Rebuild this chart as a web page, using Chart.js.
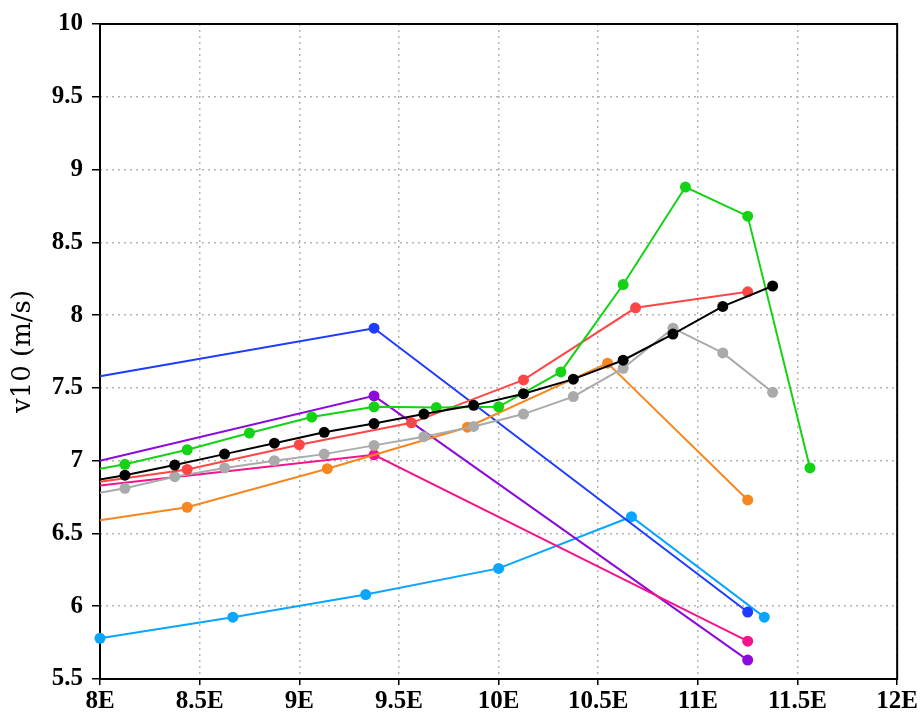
<!DOCTYPE html>
<html>
<head>
<meta charset="utf-8">
<script src="https://cdn.jsdelivr.net/npm/chart.js@4/dist/chart.umd.min.js"></script>
<style>
  html, body { margin: 0; padding: 0; background: #ffffff; }
  #wrap { width: 920px; height: 714px; }
</style>
</head>
<body>
<div id="wrap"><canvas id="c" width="920" height="714"></canvas></div>
<script>
// ---------- data ----------
const xTickValues = [8, 8.5, 9, 9.5, 10, 10.5, 11, 11.5, 12];
const xTickLabels = ["8E", "8.5E", "9E", "9.5E", "10E", "10.5E", "11E", "11.5E", "12E"];
const yTickValues = [5.5, 6, 6.5, 7, 7.5, 8, 8.5, 9, 9.5, 10];
const yTickLabels = ["5.5", "6", "6.5", "7", "7.5", "8", "8.5", "9", "9.5", "10"];
const yTitle = "v10 (m/s)";

// the first value of a series marked "enters from the left" is where the line crosses the 8E frame
const blackX = [8, 8.125, 8.375, 8.625, 8.875, 9.125, 9.375, 9.625, 9.875, 10.125, 10.375, 10.625, 10.875, 11.125, 11.375];
const blackY = [6.87, 6.90, 6.97, 7.045, 7.12, 7.195, 7.255, 7.32, 7.38, 7.46, 7.56, 7.69, 7.87, 8.06, 8.20];

const greenX = [8, 8.125, 8.4375, 8.75, 9.0625, 9.375, 9.6875, 10, 10.3125, 10.625, 10.9375, 11.25, 11.5625];
const greenY = [6.945, 6.975, 7.075, 7.19, 7.30, 7.37, 7.365, 7.37, 7.61, 8.21, 8.88, 8.68, 6.95];

const redX = [8, 8.4375, 9.0, 9.5625, 10.125, 10.6875, 11.25];
const redY = [6.855, 6.94, 7.11, 7.26, 7.555, 8.05, 8.16];

const grayX = [8, 8.125, 8.375, 8.625, 8.875, 9.125, 9.375, 9.625, 9.875, 10.125, 10.375, 10.625, 10.875, 11.125, 11.375];
const grayY = [6.78, 6.81, 6.89, 6.95, 7.00, 7.045, 7.105, 7.165, 7.235, 7.32, 7.44, 7.635, 7.91, 7.74, 7.47];

const orangeX = [8, 8.4375, 9.140625, 9.84375, 10.546875, 11.25];
const orangeY = [6.59, 6.68, 6.945, 7.23, 7.67, 6.73];

const pinkX = [8, 9.375, 11.25];
const pinkY = [6.83, 7.04, 5.76];

const purpleX = [8, 9.375, 11.25];
const purpleY = [7.0, 7.445, 5.63];

const blueX = [8, 9.375, 11.25];
const blueY = [7.58, 7.91, 5.96];

const cyanX = [8, 8.6667, 9.3333, 10, 10.6667, 11.3333];
const cyanY = [5.78, 5.925, 6.08, 6.26, 6.615, 5.925];

// series list: [name, xs, ys, enters-from-left]
const seriesList = [
  ["black", blackX, blackY, true],
  ["green", greenX, greenY, true],
  ["red", redX, redY, true],
  ["gray", grayX, grayY, true],
  ["orange", orangeX, orangeY, true],
  ["pink", pinkX, pinkY, true],
  ["purple", purpleX, purpleY, true],
  ["blue", blueX, blueY, true],
  ["cyan", cyanX, cyanY, false]
];

// ---------- styles ----------
const colorMap = {
  black: "#000000",
  green: "#14d214",
  red: "#ff4646",
  gray: "#aaaaaa",
  orange: "#f5871e",
  pink: "#f5148c",
  purple: "#8c0adc",
  blue: "#1e3cff",
  cyan: "#0aa5ff"
};

const datasets = seriesList.map(([name, xs, ys, entersLeft]) => ({
  label: name,
  data: xs.map((x, i) => ({ x: x, y: ys[i] })),
  showLine: true,
  borderColor: colorMap[name],
  backgroundColor: colorMap[name],
  borderWidth: 2,
  pointRadius: (ctx) => (entersLeft && ctx.dataIndex === 0) ? 0 : 5.5,
  pointHoverRadius: 5.5,
  pointBorderWidth: 0,
  clip: 10,
  tension: 0
}));

const framePlugin = {
  id: "frame",
  beforeDatasetsDraw(chart) {
    const a = chart.chartArea;
    const ctx = chart.ctx;
    ctx.save();
    ctx.strokeStyle = "#000";
    ctx.lineWidth = 2;
    ctx.setLineDash([]);
    ctx.strokeRect(a.left, a.top, a.right - a.left, a.bottom - a.top);
    ctx.restore();
  }
};

const tickFont = { family: "'Liberation Serif', 'DejaVu Serif', serif", size: 25, weight: "bold" };

new Chart(document.getElementById("c"), {
  type: "scatter",
  data: { datasets: datasets },
  plugins: [framePlugin],
  options: {
    responsive: false,
    animation: false,
    devicePixelRatio: 1,
    layout: { padding: { top: 24, right: 22, left: 0, bottom: 0 } },
    plugins: { legend: { display: false }, tooltip: { enabled: false } },
    scales: {
      x: {
        type: "linear",
        min: 8,
        max: 12,
        afterBuildTicks: (scale) => { scale.ticks = xTickValues.map(v => ({ value: v })); },
        afterFit: (scale) => { scale.height = 35; },
        ticks: {
          font: tickFont,
          color: "#000",
          padding: 2,
          maxRotation: 0,
          autoSkip: false,
          callback: (v) => { const i = xTickValues.indexOf(v); return i >= 0 ? xTickLabels[i] : ""; }
        },
        grid: {
          color: "#b4b4b4",
          lineWidth: 1.5,
          drawTicks: true,
          tickLength: 6,
          tickColor: "#000",
          tickWidth: 1.5,
          tickBorderDash: []
        },
        border: { display: false, dash: [2, 4] }
      },
      y: {
        type: "linear",
        min: 5.5,
        max: 10,
        afterBuildTicks: (scale) => { scale.ticks = yTickValues.map(v => ({ value: v })); },
        afterFit: (scale) => { scale.width = 100; },
        title: {
          display: true,
          text: yTitle,
          color: "#000",
          font: { family: "'DejaVu Serif', 'Liberation Serif', serif", size: 26, lineHeight: 1.2 },
          padding: { top: 8, bottom: 0 }
        },
        ticks: {
          font: tickFont,
          color: "#000",
          padding: 9,
          autoSkip: false,
          callback: (v) => { const i = yTickValues.indexOf(v); return i >= 0 ? yTickLabels[i] : ""; }
        },
        grid: {
          color: "#b4b4b4",
          lineWidth: 1.5,
          drawTicks: true,
          tickLength: 8,
          tickColor: "#000",
          tickWidth: 1.5,
          tickBorderDash: []
        },
        border: { display: false, dash: [2, 4] }
      }
    }
  }
});
</script>
</body>
</html>
